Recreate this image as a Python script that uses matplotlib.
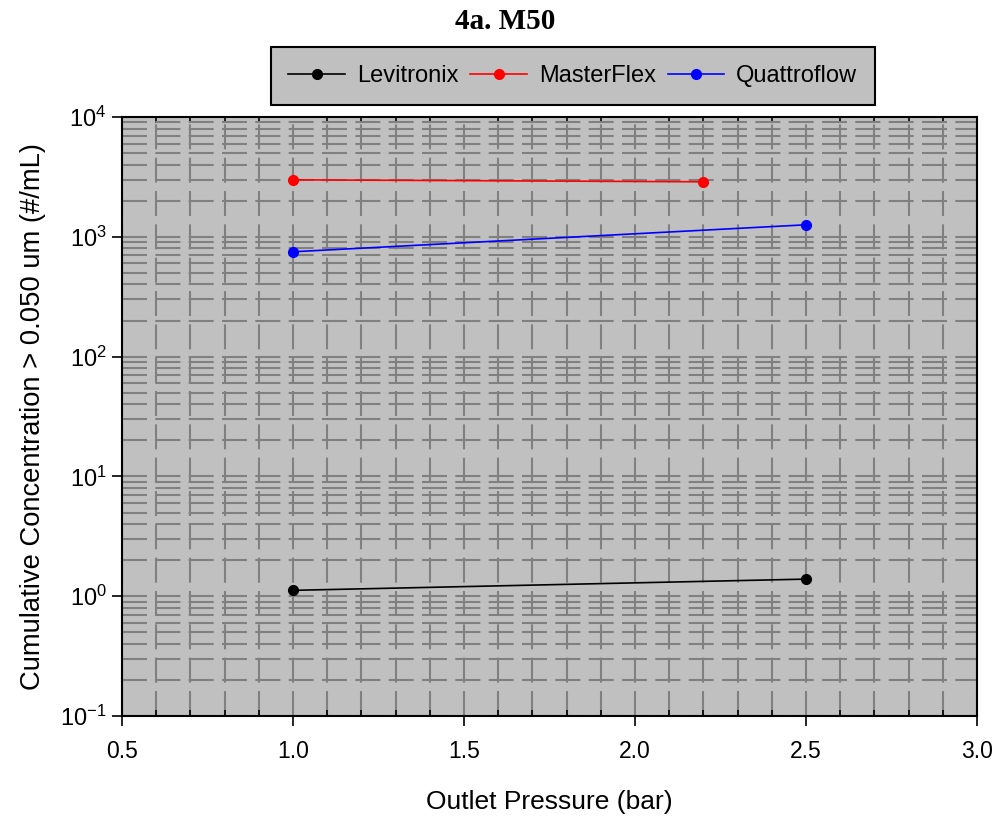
import numpy as np
import matplotlib.pyplot as plt
from matplotlib.ticker import LogLocator, MultipleLocator, NullFormatter

pressure_lev = [1.0, 2.5]
conc_lev = [1.12, 1.39]
pressure_mf = [1.0, 2.2]
conc_mf = [2990, 2880]
pressure_qf = [1.0, 2.5]
conc_qf = [750, 1260]

bg = "#c0c0c0"
sans = ["Liberation Sans", "DejaVu Sans"]
plt.rcParams["mathtext.fontset"] = "custom"
plt.rcParams["mathtext.rm"] = "Liberation Sans"
plt.rcParams["mathtext.it"] = "Liberation Sans"
plt.rcParams["mathtext.bf"] = "Liberation Sans:bold"

fig = plt.figure(figsize=(10.03, 8.24), dpi=100)
ax = fig.add_axes([0.1216, 0.131, 0.8525, 0.727])
ax.set_facecolor(bg)

ax.set_yscale("log")
ax.set_xlim(0.5, 3.0)
ax.set_ylim(0.1, 1e4)

ax.xaxis.set_major_locator(MultipleLocator(0.5))
ax.xaxis.set_minor_locator(MultipleLocator(0.1))
ax.yaxis.set_major_locator(LogLocator(base=10, numticks=10))
ax.yaxis.set_minor_locator(LogLocator(base=10, subs=np.arange(2, 10), numticks=20))
ax.yaxis.set_minor_formatter(NullFormatter())

dash = (0, (12, 4))
ax.grid(True, which="both", axis="both", color="#808080", lw=1.5, linestyle=dash)
ax.set_axisbelow(True)

ax.plot(pressure_lev, conc_lev, color="black", marker="o", ms=7, lw=1.2, label="Levitronix")
ax.plot(pressure_mf, conc_mf, color="red", marker="o", ms=7, lw=1.2, label="MasterFlex")
ax.plot(pressure_qf, conc_qf, color="blue", marker="o", ms=7, lw=1.2, label="Quattroflow")

xt = np.arange(0.5, 3.01, 0.5)
ax.set_xticks(xt)
ax.set_xticklabels([f"{v:.1f}" for v in xt], family=sans, fontsize=16.5)
yt = [0.1, 1, 10, 100, 1000, 10000]
ax.set_yticks(yt)
ax.set_yticklabels([f"$10^{{{int(np.log10(v))}}}$" for v in yt], fontsize=17)

ax.tick_params(axis="both", which="major", direction="out", length=7, width=1.2)
ax.tick_params(axis="x", which="major", pad=10)
ax.tick_params(axis="y", which="major", pad=4)
ax.tick_params(axis="x", which="minor", direction="in", length=4, width=1.2, top=True)
ax.tick_params(axis="y", which="minor", left=False)
for s in ax.spines.values():
    s.set_linewidth(1.5)

ax.set_xlabel("Outlet Pressure (bar)", family=sans, fontsize=19, labelpad=20)
ax.set_ylabel("Cumulative Concentration > 0.050 um (#/mL)", family=sans, fontsize=19.7, labelpad=10)

fig.text(0.504, 0.974, "4a. M50", ha="center", va="center", family=["Liberation Serif", "DejaVu Serif"],
         fontsize=21, fontweight="bold")

leg = fig.legend(loc="center", bbox_to_anchor=(0.571, 0.908), ncol=3,
                 prop={"family": sans, "size": 17}, frameon=True, fancybox=False,
                 facecolor=bg, edgecolor="black", framealpha=1, handlelength=2.4,
                 borderpad=0.75, borderaxespad=0, columnspacing=0.5, handletextpad=0.5)
leg.get_frame().set_linewidth(1.5)

fig.savefig("out.png", dpi=100)
